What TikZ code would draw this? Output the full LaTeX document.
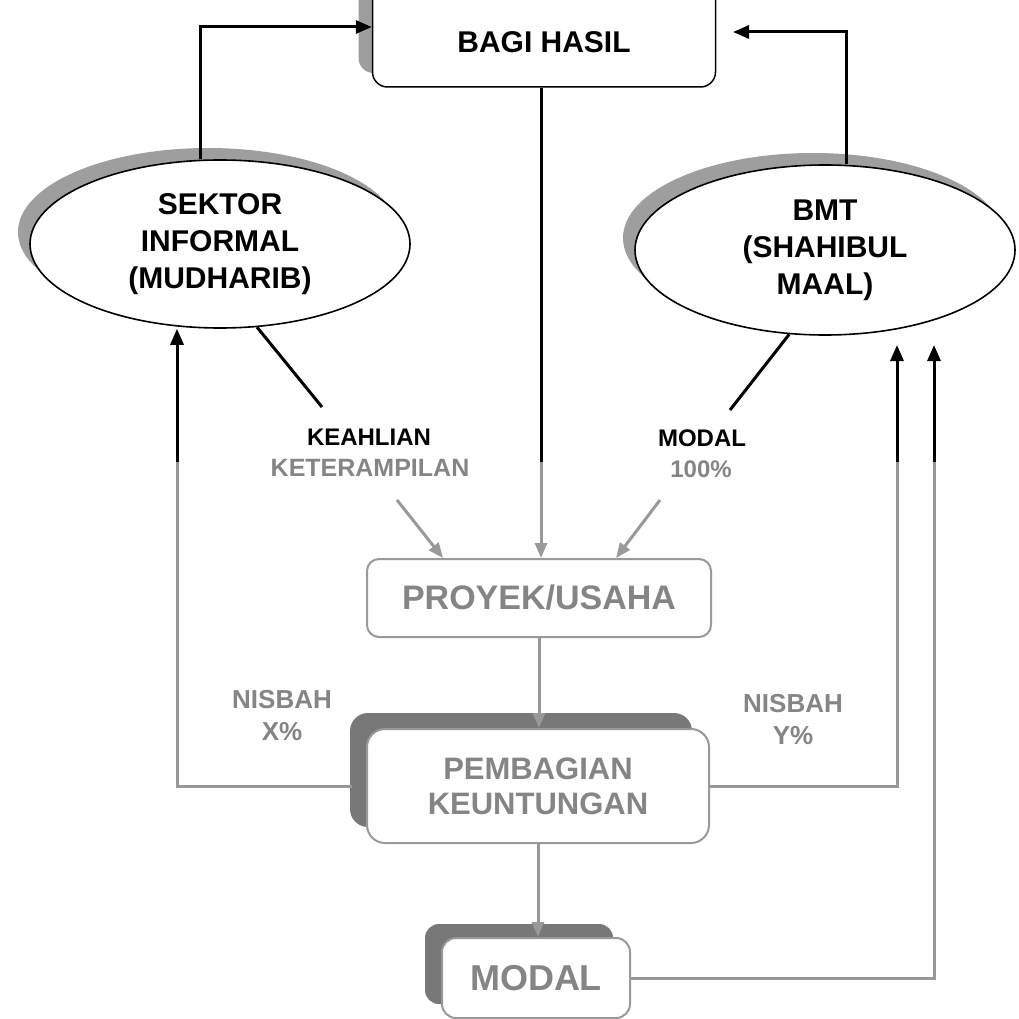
\documentclass[tikz,border=0pt]{standalone}
\usepackage{fontspec}
\setmainfont{Liberation Sans}
\usetikzlibrary{shadows,arrows.meta,shapes.geometric}
\definecolor{tg}{gray}{0.52}
\definecolor{lg}{gray}{0.6}
\definecolor{shA}{gray}{0.62}
\definecolor{shB}{gray}{0.47}
\begin{document}
\begin{tikzpicture}[x=1pt,y=-1pt,
  blk/.style={line width=3pt, draw=black},
  blkarr/.style={blk, -{Triangle[length=16pt,width=13pt]}},
  gry/.style={line width=3pt, draw=lg},
  gryarr/.style={gry, -{Triangle[length=15pt,width=12pt]}},
  ell/.style={ellipse, draw, line width=1.6pt, fill=white, inner sep=0pt,
    align=center, font=\fontsize{30}{37}\selectfont\bfseries,
    drop shadow={shadow xshift=-12pt, shadow yshift=12pt, fill=shA, opacity=1}},
  gbox/.style={rectangle, draw=lg, line width=2pt, fill=white, align=center,
    text=tg, inner sep=0pt, font=\bfseries},
  lbl/.style={inner sep=0pt, align=center, font=\fontsize{24}{28}\selectfont\bfseries},
]
\path[use as bounding box, clip] (0,0) rectangle (1018,1019);
\fill[white] (0,0) rectangle (1018,1019);

% boxes
\node[draw, line width=1.5pt, rounded corners=15pt, fill=white, anchor=base,
  minimum width=343pt, inner xsep=0pt, inner ysep=0pt, text height=86pt, text depth=34pt,
  font=\fontsize{30}{36}\selectfont\bfseries,
  drop shadow={shadow xshift=-14pt, shadow yshift=14pt, fill=shA, opacity=1}]
  (bagi) at (544,53) {BAGI HASIL};

\node[ell, minimum width=380pt, minimum height=168pt] (sek) at (220,244)
  {SEKTOR\\INFORMAL\\(MUDHARIB)};
\node[ell, minimum width=380pt, minimum height=170pt] (bmt) at (825,250)
  {BMT\\(SHAHIBUL\\MAAL)};

\node[gbox, rounded corners=12pt, minimum width=344pt, minimum height=78pt,
  font=\fontsize{34}{40}\selectfont\bfseries] (pro) at (539,598) {PROYEK/USAHA};

\node[gbox, rounded corners=18pt, minimum width=342pt, minimum height=114pt,
  font=\fontsize{31}{35}\selectfont\bfseries,
  drop shadow={shadow xshift=-17pt, shadow yshift=16pt, fill=shB, opacity=1}]
  (peb) at (538,786) {PEMBAGIAN\\KEUNTUNGAN};

\node[gbox, rounded corners=14pt, minimum width=188pt, minimum height=80pt,
  font=\fontsize{36}{40}\selectfont\bfseries,
  drop shadow={shadow xshift=-17pt, shadow yshift=14pt, fill=shB, opacity=1}]
  (mod) at (536,978) {MODAL};

% labels
\node[lbl] (kea) at (369,437) {KEAHLIAN};
\node[lbl, text=tg, font=\fontsize{25}{28}\selectfont\bfseries] (ket) at (370,468) {KETERAMPILAN};
\node[lbl] (mdl) at (702,438) {MODAL};
\node[lbl, text=tg] (pct) at (701,469) {100\%};
\node[lbl, text=tg, font=\fontsize{26}{32}\selectfont\bfseries] (nx) at (282,716) {NISBAH\\X\%};
\node[lbl, text=tg, font=\fontsize{26}{32}\selectfont\bfseries] (ny) at (793,720) {NISBAH\\Y\%};

% coordinates
\coordinate (lx) at (200,0);
\coordinate (rtop) at (733,32);
\coordinate (rx) at (846,0);
\coordinate (cj) at (541,462);
\coordinate (kl) at (322,407);
\coordinate (ml) at (730,410);
\coordinate (ka) at (397,500);
\coordinate (kb) at (443,0);
\coordinate (ma) at (660,500);
\coordinate (mb) at (616,0);
\coordinate (lj) at (177,462);
\coordinate (rj1) at (897,462);
\coordinate (rt1) at (897,345);
\coordinate (rj2) at (934,462);
\coordinate (rt2) at (934,345);

% connectors
\draw[blkarr] (sek.north -| lx) |- (bagi.west);
\draw[blkarr] (bmt.north -| rx) |- (rtop);
\draw[blk] (bagi.south -| cj) -- (cj);
\draw[gryarr] (cj) -- (cj |- pro.north);
\draw[blk] (sek.-66) -- (kl);
\draw[blk] (bmt.-113) -- (ml);
\draw[gryarr] (ka) -- (kb |- pro.north);
\draw[gryarr] (ma) -- (mb |- pro.north);
\draw[gryarr] (pro.south) -- (pro.south |- peb.north);
\draw[gryarr] (peb.south) -- (peb.south |- mod.north);
\draw[gry, shorten <=14pt] (peb.west) -| (lj);
\draw[blkarr] (lj) -- (lj |- sek.south);
\draw[gry] (peb.east) -| (rj1);
\draw[blkarr] (rj1) -- (rt1);
\draw[gry] (mod.east) -| (rj2);
\draw[blkarr] (rj2) -- (rt2);
\end{tikzpicture}
\end{document}
